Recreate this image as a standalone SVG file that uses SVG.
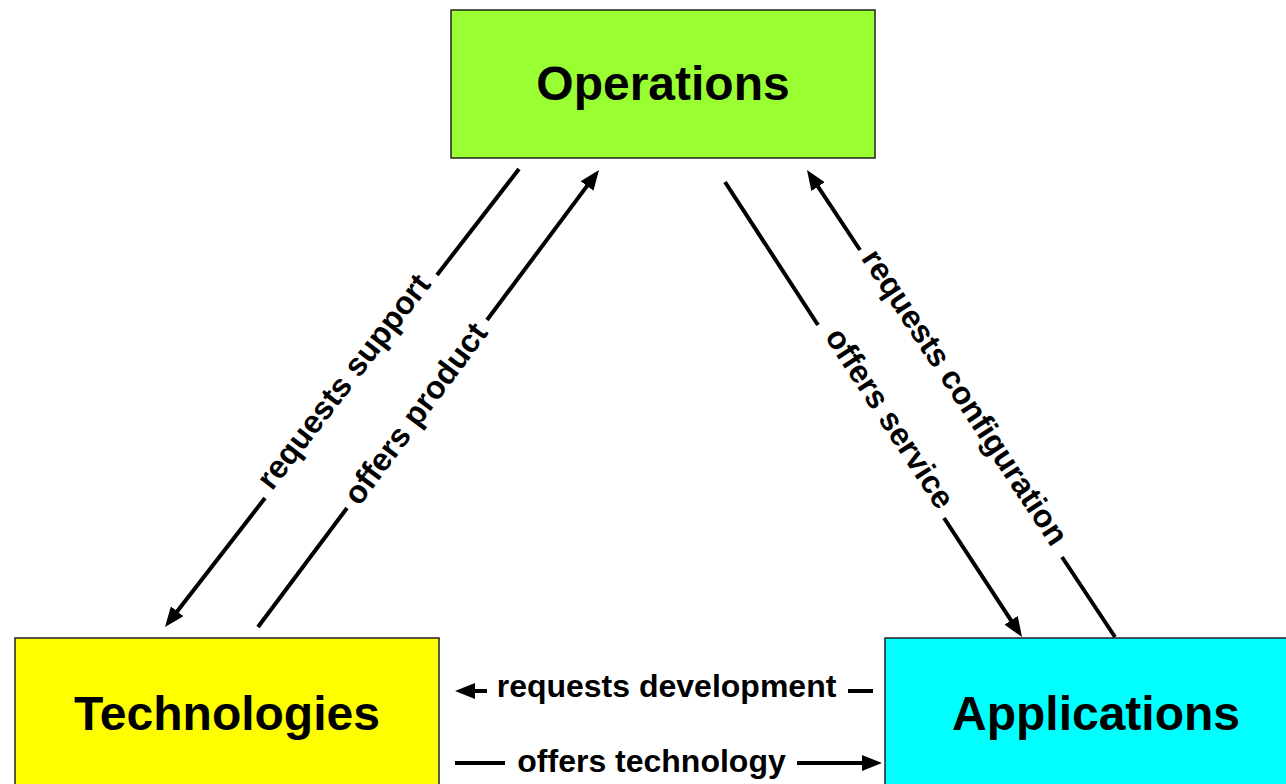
<svg xmlns="http://www.w3.org/2000/svg" width="1286" height="784" viewBox="0 0 1286 784">
<style>
.box{stroke:#222;stroke-width:1.5}
.title{font-family:"Liberation Sans",Arial,sans-serif;font-weight:bold;font-size:48px;text-anchor:middle;fill:#000}
.lbl{font-family:"Liberation Sans",Arial,sans-serif;font-weight:bold;font-size:32px;text-anchor:middle;fill:#000}
.ln{stroke:#000;stroke-width:4;fill:none}
</style>
<defs>
<marker id="ah" viewBox="0 -8 20 16" refX="12" refY="0" markerWidth="20" markerHeight="16" markerUnits="userSpaceOnUse" orient="auto">
<path d="M0,-8 L20,0 L0,8 z" fill="#000"/>
</marker>
</defs>
<rect width="1286" height="784" fill="#fff"/>
<g id="operations">
<rect class="box" x="451" y="10" width="424" height="148" fill="#99FF33"/>
<text class="title" x="663" y="100">Operations</text>
</g>
<g id="technologies">
<rect class="box" x="15" y="638" width="424" height="170" fill="#FFFF00"/>
<text class="title" x="227" y="730">Technologies</text>
</g>
<g id="applications">
<rect class="box" x="885" y="638" width="430" height="170" fill="#00FFFF"/>
<text class="title" x="1096" y="730">Applications</text>
</g>
<g id="connectors">
<line class="ln" x1="519" y1="169" x2="437" y2="275"/>
<line class="ln" x1="265" y1="498" x2="169.9" y2="620.7" marker-end="url(#ah)"/>
<text class="lbl" transform="translate(352,388) rotate(-52.3)">requests support</text>
<line class="ln" x1="258" y1="627" x2="347" y2="508"/>
<line class="ln" x1="487" y1="320" x2="594.2" y2="176.4" marker-end="url(#ah)"/>
<text class="lbl" transform="translate(424,420) rotate(-53.3)">offers product</text>
<line class="ln" x1="725" y1="182" x2="818" y2="325"/>
<line class="ln" x1="944" y1="518" x2="1017.6" y2="630.3" marker-end="url(#ah)"/>
<text class="lbl" transform="translate(881,424) rotate(56.9)">offers service</text>
<line class="ln" x1="1115" y1="637" x2="1062" y2="557"/>
<line class="ln" x1="860" y1="250" x2="811.4" y2="176.7" marker-end="url(#ah)"/>
<text class="lbl" transform="translate(956,403) rotate(56.6)">requests configuration</text>
<line class="ln" x1="873" y1="691" x2="848" y2="691"/>
<line class="ln" x1="487" y1="691" x2="463" y2="691" marker-end="url(#ah)"/>
<text class="lbl" x="666.5" y="697">requests development</text>
<line class="ln" x1="455" y1="763" x2="505" y2="763"/>
<line class="ln" x1="797" y1="763" x2="874" y2="763" marker-end="url(#ah)"/>
<text class="lbl" x="651.5" y="772">offers technology</text>
</g>
</svg>
